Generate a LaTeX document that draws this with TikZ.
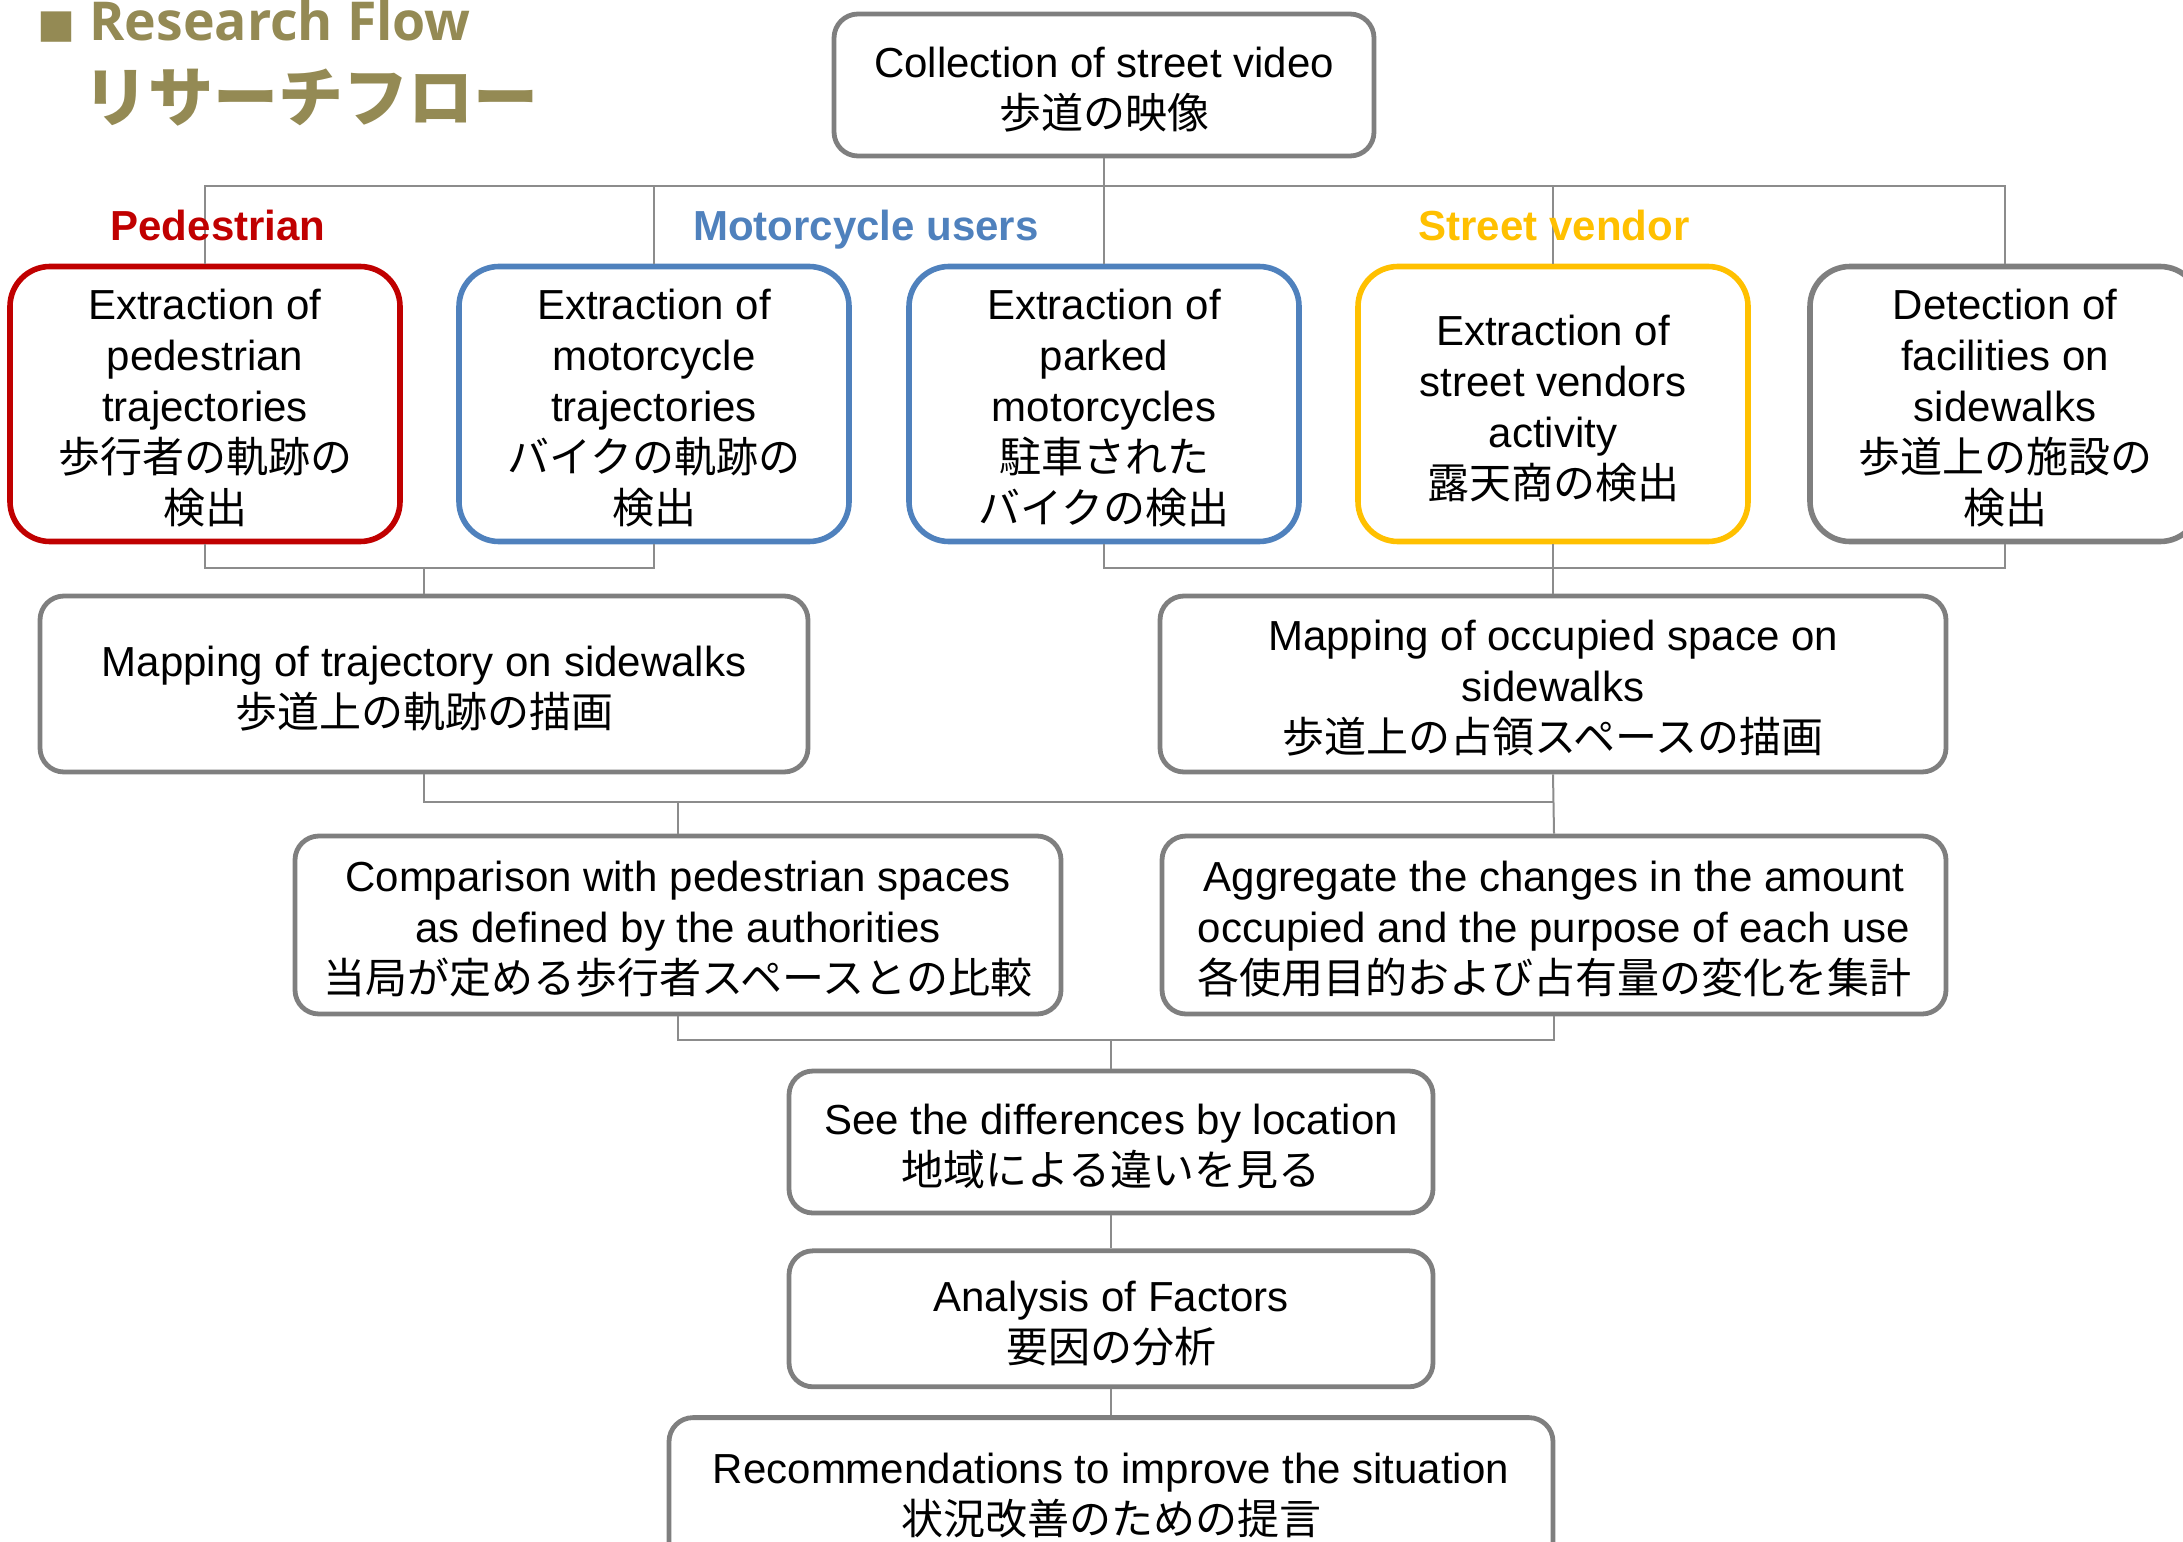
\documentclass[tikz,border=0pt]{standalone}
\usepackage{fontspec}
\setmainfont{Liberation Sans}
\newfontfamily\jp{Noto Sans CJK JP}
\newfontfamily\ttl{Open Sans}
\usepackage{xcolor}
\usetikzlibrary{positioning}

\definecolor{titleolive}{HTML}{948A54}
\definecolor{pedred}{HTML}{C00000}
\definecolor{motoblue}{HTML}{4F81BD}
\definecolor{vendyel}{HTML}{FFC000}
\definecolor{boxgray}{HTML}{7F7F7F}
\definecolor{linegray}{HTML}{8C8C8C}

\newcommand{\ftop}{\rule{0pt}{19.5pt}}

\begin{document}
\begin{tikzpicture}[x=0.5pt,y=-0.5pt,
  box/.style={
   draw=boxgray,
   line width=2.4pt,
   rounded corners=12pt,
   fill=white,
   align=center,
   inner sep=0pt,
   font=\fontsize{21}{25.5}\selectfont
  },
  extract/.style={
    box,
    line width=2.8pt,
    rounded corners=20pt,
    minimum width=195pt,
    minimum height=137.5pt
  },
  conn/.style={
    linegray,
    line width=1pt
  },
  group/.style={
    anchor=base,
    inner sep=0pt,
    font=\fontsize{21}{25}\selectfont\bfseries
  }]
	\useasboundingbox (0,0) rectangle (2183,1541);

	\node[text=titleolive,inner sep=0pt,font=\fontsize{19}{19}\jp] 
		  (sq) at (56,27) {■};
	\node[anchor=base west,text=titleolive,inner sep=0pt,font=\fontsize{26.8}{30}\ttl\bfseries] 
		  (ttlA) at (89,41) {Research Flow};
	\node[anchor=base west,text=titleolive,inner sep=0pt,font=\fontsize{32.5}{35}\jp\bfseries] 
		  (ttlB) at (83,121) {リサーチフロー};

	\node[box,minimum width=270pt,minimum height=71pt] at (1104,85) 
		  (video) {\ftop Collection of street video\\{\jp 歩道の映像}};

	\node[extract,draw=pedred] at (205,404) 
		  (ped) {\ftop Extraction of\\pedestrian\\trajectories\\{\jp 歩行者の軌跡の}\\{\jp 検出}};
	\node[extract,draw=motoblue] at (654,404) 
		  (moto) {\ftop Extraction of\\motorcycle\\trajectories\\{\jp バイクの軌跡の}\\{\jp 検出}};
	\node[extract,draw=motoblue] at (1104,404) 
		  (park) {\ftop Extraction of\\parked\\motorcycles\\{\jp 駐車された}\\{\jp バイクの検出}};
	\node[extract,draw=vendyel] at (1553,404) 
		  (vend) {\ftop Extraction of\\street vendors\\activity\\{\jp 露天商の検出}};
	\node[extract] at (2005,404) 
		  (facil) {\ftop Detection of\\facilities on\\sidewalks\\{\jp 歩道上の施設の}\\{\jp 検出}};

	\node[box,minimum width=384pt,minimum height=88pt] at (424,684) 
		  (mapT) {\ftop Mapping of trajectory on sidewalks\\{\jp 歩道上の軌跡の描画}};
	\node[box,minimum width=393pt,minimum height=88pt] at (1553,684) 
		  (mapS) {\ftop Mapping of occupied space on\\sidewalks\\{\jp 歩道上の占領スペースの描画}};
	\node[box,minimum width=383pt,minimum height=89pt] at (678,925) 
		  (comp) {\ftop Comparison with pedestrian spaces\\as defined by the authorities\\{\jp 当局が定める歩行者スペースとの比較}};
	\node[box,minimum width=392pt,minimum height=89pt] at (1554,925) 
		  (aggr) {\ftop Aggregate the changes in the amount\\occupied and the purpose of each use\\{\jp 各使用目的および占有量の変化を集計}};
	\node[box,minimum width=322pt,minimum height=71pt] at (1111,1142) 
		  (diff) {\ftop See the differences by location\\{\jp 地域による違いを見る}};
	\node[box,minimum width=322pt,minimum height=68pt,below=16.5pt of diff] 
		  (fact) {\ftop Analysis of Factors\\{\jp 要因の分析}};
	\node[box,minimum width=442pt,minimum height=74pt,below=13pt of fact] 
		  (recom) {\ftop Recommendations to improve the situation\\{\jp 状況改善のための提言}};

	\coordinate (busA) at (0,186);
	\coordinate (busB) at (0,568);
	\coordinate (busC) at (0,802);
	\coordinate (busD) at (0,1040);

	\draw[conn] (video.south) -- (video.south |- busA);
	\draw[conn] (ped.north) |- (facil.north |- busA) -- (facil.north);
	\draw[conn] (moto.north) -- (moto.north |- busA);
	\draw[conn] (park.north) -- (park.north |- busA);
	\draw[conn] (vend.north) -- (vend.north |- busA);

	\draw[conn] (ped.south) |- (moto.south |- busB) -- (moto.south);
	\draw[conn] (mapT.north) -- (mapT.north |- busB);
	\draw[conn] (park.south) |- (facil.south |- busB) -- (facil.south);
	\draw[conn] (vend.south) -- (mapS.north);

	\draw[conn] (mapT.south) |- (mapS.south |- busC);
	\draw[conn] (mapS.south) -- (aggr.north);
	\draw[conn] (comp.north) -- (comp.north |- busC);

	\draw[conn] (comp.south) |- (aggr.south |- busD) -- (aggr.south);
	\draw[conn] (diff.north) -- (diff.north |- busD);
	\draw[conn] (diff) -- (fact);
	\draw[conn] (fact) -- (recom);

	\node[group,text=pedred] at (218,240) (lp) {Pedestrian};
	\node[group,text=motoblue] at (866,240) (lm) {Motorcycle users};
	\node[group,text=vendyel] at (1554,240) (lv) {Street vendor};
\end{tikzpicture}
\end{document}
